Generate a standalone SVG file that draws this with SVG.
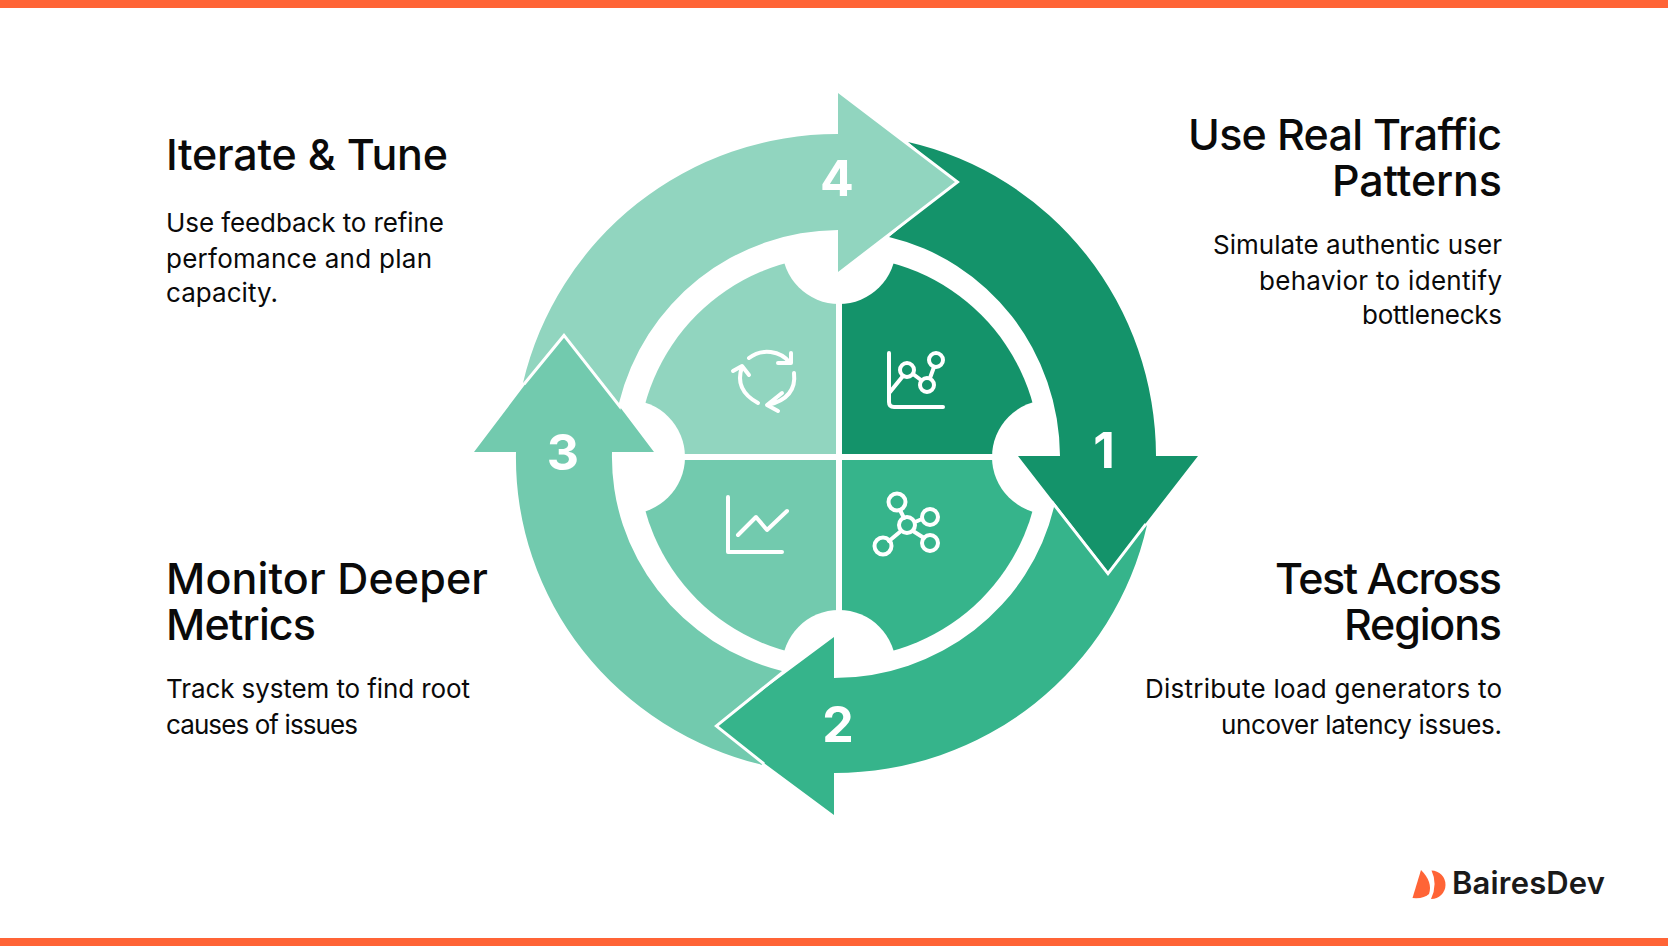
<svg xmlns="http://www.w3.org/2000/svg" width="1668" height="946" viewBox="0 0 1668 946">
<style>
.t{font-family:"Inter","Liberation Sans",sans-serif;font-size:43px;font-weight:500;fill:#0a0a0a}
.d{font-family:"Inter","Liberation Sans",sans-serif;font-size:26px;font-weight:400;fill:#0a0a0a}
.e{text-anchor:end}
.n{font-family:"Inter","Liberation Sans",sans-serif;font-size:50px;font-weight:700;fill:#fff;text-anchor:middle}
.ar{stroke:#fff;stroke-width:6;stroke-linejoin:miter;paint-order:stroke}
.ic{fill:none;stroke:#fff;stroke-width:4;stroke-linecap:round;stroke-linejoin:round}
</style>
<rect width="1668" height="946" fill="#fff"/>
<rect width="1668" height="8" fill="#ff6436"/>
<rect y="938" width="1668" height="8" fill="#ff6436"/>
<g id="hub">
<path d="M836 454V256A201 201 0 0 0 638 454Z" fill="#91d5bf"/>
<path d="M842 454V256A201 201 0 0 1 1040 454Z" fill="#14936a"/>
<path d="M836 460V658A201 201 0 0 1 638 460Z" fill="#72caae"/>
<path d="M842 460V658A201 201 0 0 0 1040 460Z" fill="#36b48b"/>
<circle cx="839" cy="247" r="57" fill="#fff"/>
<circle cx="1049" cy="457" r="57" fill="#fff"/>
<circle cx="839" cy="667" r="57" fill="#fff"/>
<circle cx="628" cy="457" r="57" fill="#fff"/>
</g>
<g id="icons">
<g class="ic">
<path d="M749 358A28 26 0 0 1 790 363M791 353V363H778"/><path d="M794 373Q797 398 768 405M782 393L767 405L778 411"/><path d="M758 403Q734 390 742 367M733 371L742 366L749 375"/>
<path d="M889 353V402Q889 407 894 407H943"/><circle cx="907" cy="370" r="7"/><circle cx="927" cy="385" r="7"/><circle cx="936" cy="360" r="7"/><path d="M890 392L903 376M913 374L921 380M930 378L934 367"/>
<path d="M728 497V552H782M738 535L756 517L767 530L787 511"/>
<circle cx="897" cy="502" r="8.5"/><circle cx="907" cy="525" r="8"/><circle cx="930" cy="517" r="8"/><circle cx="930" cy="543" r="8"/><circle cx="883" cy="546" r="8.5"/><path d="M900 510L904 518M915 522L922 519M913 531L924 538M901 531L889 541"/>
</g>
</g>
<g id="connectors">
<g id="arrow1"><path class="ar" d="M908 142A317 322 0 0 1 1156 456H1198L1108 572L1018 456H1060A221 226 0 0 0 889 237L955 182Z" fill="#14936a"/><text class="n" x="1104" y="468">1</text></g>
<g id="arrow2"><path class="ar" d="M1147 525A320 316 0 0 1 834 773V815L714 726L834 637V678A226 221 0 0 0 1054 507L1108 576Z" fill="#36b48b"/><text class="n" x="838" y="742">2</text></g>
<g id="arrow3"><path class="ar" d="M763 765A323 316 0 0 1 516 452H474L564 333L654 452H612A227 221 0 0 0 782 671L714 726Z" fill="#72caae"/><text class="n" x="563" y="470">3</text></g>
<g id="arrow4"><path class="ar" d="M523 383A323 323 0 0 1 838 134V93L955 182L838 272V230A227 227 0 0 0 619 403L564 333Z" fill="#91d5bf"/><text class="n" x="837" y="196">4</text></g>
</g>
<g id="step4"><text class="t" x="166" y="170" textLength="282">Iterate &amp; Tune</text><text class="d" x="166" y="232" textLength="278">Use feedback to refine</text><text class="d" x="166" y="268" textLength="266">perfomance and plan</text><text class="d" x="166" y="302" textLength="112">capacity.</text></g>
<g id="step1"><text class="t e" x="1502" y="150" textLength="314">Use Real Traffic</text><text class="t e" x="1502" y="196" textLength="170">Patterns</text><text class="d e" x="1502" y="254" textLength="289">Simulate authentic user</text><text class="d e" x="1502" y="290" textLength="243">behavior to identify</text><text class="d e" x="1502" y="324" textLength="140">bottlenecks</text></g>
<g id="step3"><text class="t" x="166" y="594" textLength="322">Monitor Deeper</text><text class="t" x="166" y="640" textLength="150">Metrics</text><text class="d" x="166" y="698" textLength="304">Track system to find root</text><text class="d" x="166" y="734" textLength="192">causes of issues</text></g>
<g id="step2"><text class="t e" x="1502" y="594" textLength="227">Test Across</text><text class="t e" x="1502" y="640" textLength="158">Regions</text><text class="d e" x="1502" y="698" textLength="357">Distribute load generators to</text><text class="d e" x="1502" y="734" textLength="281">uncover latency issues.</text></g>
<g id="logo"><path d="M1421 870L1412.500 898Q1424 899 1429 894Q1433 882 1421 870Z" fill="#ff6436"/><path d="M1431.500 870.500A14 14 0 0 1 1431 899Q1438 884 1431.500 870.500Z" fill="#ff6436"/><text x="1452" y="894" font-family="Inter,sans-serif" font-size="31" font-weight="600" fill="#1a1a1a" textLength="153">BairesDev</text></g>
</svg>
